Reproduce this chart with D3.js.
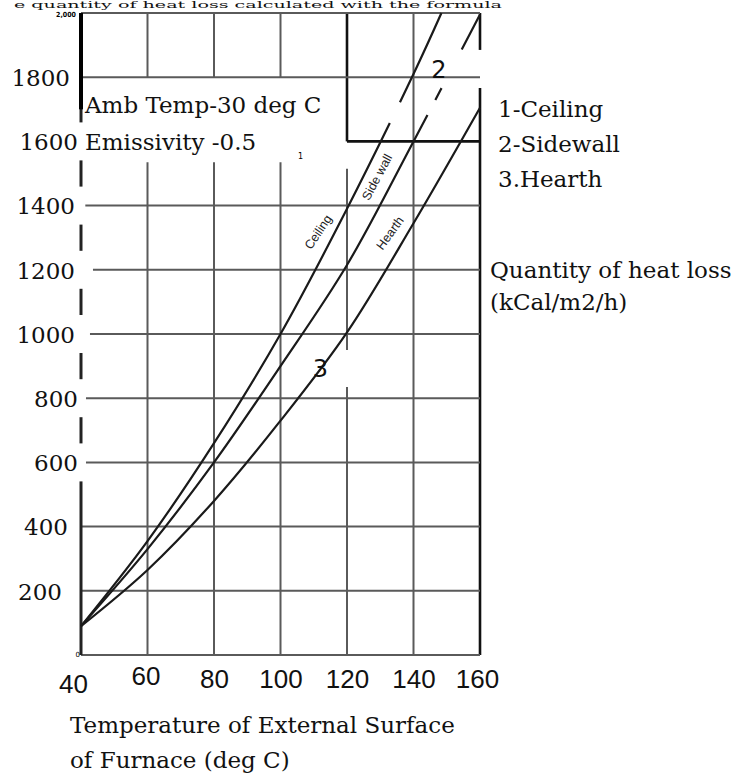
<!DOCTYPE html>
<html lang="en">
<head>
<meta charset="UTF-8">
<title>Quantity of heat loss vs external surface temperature</title>
<style>
  body { margin: 0; background: #fff; }
  svg { display: block; }
  .serif { font-family: 'DejaVu Serif', serif; font-size: 23px; fill: #111; }
  .grid { stroke: #5a5a5a; stroke-width: 2; fill: none; }
  .grid.dark { stroke: #111; stroke-width: 2.6; }
  .curve { fill: none; stroke: #1a1a1a; stroke-width: 2.2; }
  .curve-tag { font-family: 'Liberation Sans', sans-serif; font-size: 12.5px; fill: #222; }
  .curve-num { font-family: 'DejaVu Sans', sans-serif; font-size: 24px; fill: #111; }
</style>
</head>
<body>
<div id="chart"></div>
<script src="https://cdnjs.cloudflare.com/ajax/libs/d3/7.8.5/d3.min.js"></script>
<script>
// data (deg C, kCal/m2/h)
const temps = [40, 60, 80, 100, 120, 140, 160];
const lossTicks = [200, 400, 600, 800, 1000, 1200, 1400, 1600, 1800];
const ceilingPts = [[40, 90], [60, 355], [80, 660], [100, 1000], [120, 1390], [140, 1810], [148.4, 2000]];
const sidewallPts = [[40, 90], [60, 330], [80, 600], [100, 900], [120, 1215], [140, 1600], [160, 1995]];
const hearthPts = [[40, 90], [60, 265], [80, 480], [100, 730], [120, 1005], [140, 1345], [160, 1705]];
const legendLines = ["1-Ceiling", "2-Sidewall", "3.Hearth"];

const W = 738, H = 775;
const svg = d3.select("#chart").append("svg").attr("width", W).attr("height", H);
svg.append("rect").attr("width", W).attr("height", H).attr("fill", "#fff");

const x = d3.scaleLinear().domain([40, 160]).range([81, 480]);
const y = d3.scaleLinear().domain([0, 2000]).range([655, 13]);

// grid (the scanned original has gaps where text was pasted over it)
const vline = (t, a, b, cls) => svg.append("line").attr("class", cls || "grid")
  .attr("x1", x(t)).attr("x2", x(t)).attr("y1", y(a)).attr("y2", y(b));
const hline = (v, a, b, cls) => svg.append("line").attr("class", cls || "grid")
  .attr("x1", x(a)).attr("x2", x(b)).attr("y1", y(v)).attr("y2", y(v));

[60, 80, 100].forEach(t => { vline(t, 2000, 1800); vline(t, 1535, 0); });
vline(120, 2000, 1600, "grid dark"); vline(120, 1515, 950); vline(120, 835, 0);
vline(140, 2000, 0);
vline(160, 2000, 1885, "grid dark"); vline(160, 1766, 0, "grid dark");

hline(2000, 40, 160); hline(1800, 40, 160);
hline(1600, 120, 160, "grid dark");
hline(1400, 41.3, 160); hline(1200, 43.6, 160); hline(1000, 42.7, 160);
hline(800, 41.5, 160); hline(600, 41.5, 160);
hline(400, 40, 160); hline(200, 40, 160); hline(0, 40, 160);

// left axis, broken around the labels 600..1600
const gapTicks = lossTicks.filter(v => v >= 600 && v <= 1600);
let segTop = y(2000);
gapTicks.slice().reverse().forEach(v => {
  svg.append("line").attr("class", "grid").style("stroke", "#222").style("stroke-width", 3)
    .attr("x1", x(40)).attr("x2", x(40)).attr("y1", segTop).attr("y2", y(v) - 19);
  segTop = y(v) + 19;
});
svg.append("line").attr("class", "grid").style("stroke", "#222").style("stroke-width", 3)
  .attr("x1", x(40)).attr("x2", x(40)).attr("y1", segTop).attr("y2", y(0));
svg.append("line").attr("class", "grid").style("stroke", "#000").style("stroke-width", 4)
  .attr("x1", x(40)).attr("x2", x(40)).attr("y1", y(2000)).attr("y2", y(1700));

// y labels
const yShift = { 1800: -5, 1600: 3, 800: 3, 600: 3, 400: -7, 200: -13 };
const yAxis = svg.append("g").attr("transform", "translate(75,0)")
  .call(d3.axisLeft(y).tickValues(lossTicks).tickSize(0).tickFormat(d3.format("d")));
yAxis.select(".domain").remove();
yAxis.selectAll("text").attr("class", "serif").attr("font-family", null).attr("font-size", null)
  .attr("x", d => yShift[d] || 0).attr("dy", "0.36em");

svg.append("text").attr("x", x(40) - 5).attr("y", y(2000) + 3.5).attr("text-anchor", "end")
  .style("font-family", "'DejaVu Sans Condensed', sans-serif").style("font-size", "7px")
  .style("font-weight", "bold").text("2,000");
svg.append("text").attr("x", x(40) - 1).attr("y", y(0) + 2).attr("text-anchor", "end")
  .style("font-family", "'DejaVu Sans', sans-serif").style("font-size", "7px").text("0");

// x labels
const xShift = { 40: [-8, 5], 60: [-2, -3], 160: [-3, 0] };
const xAxis = svg.append("g").attr("transform", `translate(0,${y(0)})`)
  .call(d3.axisBottom(x).tickValues(temps).tickSize(0));
xAxis.select(".domain").remove();
xAxis.selectAll("text").attr("font-family", null).attr("font-size", null)
  .style("font-family", "'Liberation Sans', sans-serif").style("font-size", "26px").style("fill", "#111")
  .attr("dy", 0).attr("x", d => (xShift[d] || [0, 0])[0]).attr("y", d => 33 + (xShift[d] || [0, 0])[1]);

// curves
const line = d3.line().x(d => x(d[0])).y(d => y(d[1])).curve(d3.curveCatmullRom.alpha(0.5));
const series = [
  { pts: ceilingPts, gaps: [[1657, 1722]] },
  { pts: sidewallPts, gaps: [[1683, 1729], [1766, 1885]] },
  { pts: hearthPts, gaps: [] }
];
series.forEach(s => {
  const path = svg.append("path").attr("class", "curve").attr("d", line(s.pts));
  if (!s.gaps.length) return;
  const node = path.node(), total = node.getTotalLength();
  const lenAt = v => {
    const target = y(v);
    let lo = 0, hi = total;
    for (let i = 0; i < 30; i++) {
      const mid = (lo + hi) / 2;
      if (node.getPointAtLength(mid).y > target) lo = mid; else hi = mid;
    }
    return lo;
  };
  const dash = [];
  let pos = 0;
  s.gaps.forEach(([a, b]) => {
    const la = lenAt(a), lb = lenAt(b);
    dash.push(la - pos, lb - la);
    pos = lb;
  });
  dash.push(total - pos + 5, 0);
  path.attr("stroke-dasharray", dash.join(" "));
});

// curve tags
[["Ceiling", 111.3, 1318, -56], ["Side wall", 129, 1489, -62], ["Hearth", 132.9, 1315, -54]]
  .forEach(([txt, t, v, a]) => {
    svg.append("text").attr("class", "curve-tag")
      .attr("transform", `translate(${x(t)},${y(v)}) rotate(${a})`)
      .attr("text-anchor", "middle").attr("dy", "0.35em").text(txt);
  });
svg.append("text").attr("class", "curve-num").attr("text-anchor", "middle")
  .attr("x", x(147.6)).attr("y", y(1800) + 1).text("2");
svg.append("text").attr("class", "curve-num").attr("text-anchor", "middle")
  .attr("x", x(112)).attr("y", y(865)).text("3");
svg.append("text").attr("text-anchor", "middle").attr("x", x(106)).attr("y", y(1545))
  .style("font-family", "'DejaVu Sans', sans-serif").style("font-size", "8px").text("1");

// text blocks
const txt = (s, px, py) => svg.append("text").attr("class", "serif").attr("x", px).attr("y", py).text(s);
// caption line above the chart (cut by the scan in the original, kept small here)
txt("e quantity of heat loss calculated with the formula", 14, 7.5)
  .style("font-size", "9.5px").attr("textLength", 488).attr("lengthAdjust", "spacingAndGlyphs");
txt("Amb Temp-30 deg C", 85, 113);
txt("Emissivity -0.5", 85, 150);
legendLines.forEach((s, i) => txt(s, 498, 117 + i * 34.8));
txt("Quantity of heat loss", 490, 278);
txt("(kCal/m2/h)", 490, 310);
txt("Temperature of External Surface", 70, 733);
txt("of Furnace (deg C)", 70, 768);
</script>
</body>
</html>
